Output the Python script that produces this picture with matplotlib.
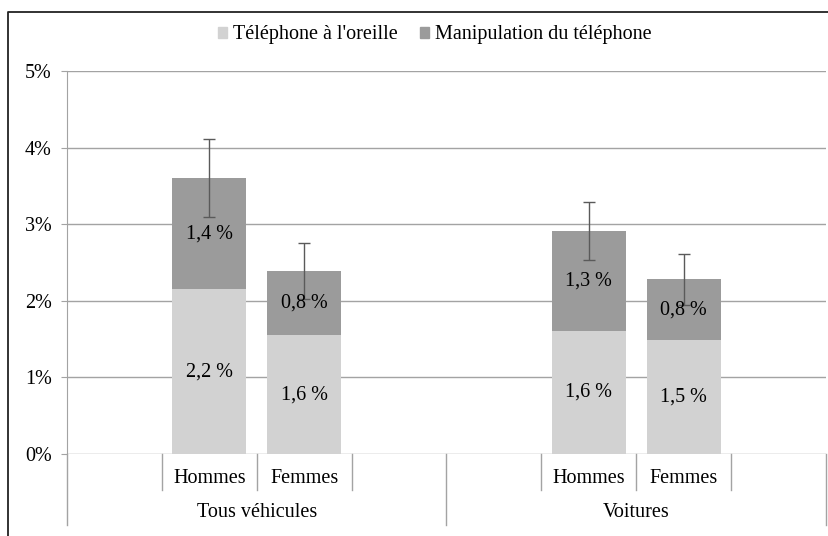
import numpy as np
import matplotlib.pyplot as plt
from matplotlib.lines import Line2D
from matplotlib.patches import Patch

# data (in %)
groups = ['Tous véhicules', 'Voitures']
sexes = ['Hommes', 'Femmes']
oreille = [2.15, 1.55, 1.61, 1.49]
manip = [1.45, 0.84, 1.30, 0.79]
erreur = [0.51, 0.36, 0.38, 0.33]
lab_oreille = ['2,2 %', '1,6 %', '1,6 %', '1,5 %']
lab_manip = ['1,4 %', '0,8 %', '1,3 %', '0,8 %']
yticks = [0, 1, 2, 3, 4, 5]

light = '#d2d2d2'
dark = '#9b9b9b'
grid = '#a3a3a3'
fs = 14.5

plt.rcParams['font.family'] = ['Liberation Serif', 'DejaVu Serif']

fig = plt.figure(figsize=(8.29, 5.36), dpi=100)
ax = fig.add_axes([67 / 829, 82 / 536, 759 / 829, 383 / 536])

# each group has 4 slots: empty, Hommes, Femmes, empty
slots = 4
x = []
for g in range(len(groups)):
  for s in range(len(sexes)):
    x.append(g * slots + 1 + s + 0.5)
x = np.array(x)
oreille = np.array(oreille)
manip = np.array(manip)
total = oreille + manip

ax.bar(x, oreille, width=0.78, color=light, zorder=2, label="Téléphone à l'oreille")
ax.bar(x, manip, width=0.78, bottom=oreille, color=dark, zorder=2, label='Manipulation du téléphone')
ax.errorbar(x, total, yerr=erreur, fmt='none', ecolor='#5a5a5a', elinewidth=1,
            capsize=4, capthick=1, zorder=3)

for i in range(len(x)):
  ax.text(x[i], oreille[i] / 2, lab_oreille[i], ha='center', va='center', fontsize=fs, zorder=4)
  ax.text(x[i], oreille[i] + manip[i] / 2, lab_manip[i], ha='center', va='center', fontsize=fs, zorder=4)

ax.set_xlim(0, slots * len(groups))
ax.set_ylim(0, 5)
ax.set_yticks(yticks)
ax.set_yticklabels([f'{t}%' for t in yticks], fontsize=fs)
ax.set_xticks([])
ax.yaxis.grid(True, color=grid, linewidth=1, zorder=0)
ax.tick_params(axis='y', length=4.5, color=grid, pad=6.5)
for side in ['top', 'right', 'bottom']:
  ax.spines[side].set_visible(False)
ax.spines['left'].set_color(grid)

# two level category axis drawn below the plot
trans = ax.get_xaxis_transform()
for g in range(len(groups)):
  start = g * slots
  for k in range(1, slots):
    ax.add_line(Line2D([start + k, start + k], [0, -0.094], color=grid, lw=1,
                       transform=trans, clip_on=False))
  for s in range(len(sexes)):
    ax.text(start + 1 + s + 0.5, -0.063, sexes[s], transform=trans, ha='center',
            va='center', fontsize=fs)
  ax.text(start + slots / 2, -0.154, groups[g], transform=trans, ha='center',
          va='center', fontsize=fs)
for g in range(len(groups) + 1):
  ax.add_line(Line2D([g * slots, g * slots], [0, -0.185], color=grid, lw=1,
                     transform=trans, clip_on=False))

handles = [Patch(color=light, label="Téléphone à l'oreille"),
           Patch(color=dark, label='Manipulation du téléphone')]
fig.legend(handles=handles, loc='center', bbox_to_anchor=(0.524, 1 - 35 / 536), ncol=2,
           frameon=False, fontsize=fs, handlelength=0.45, handleheight=0.45,
           handletextpad=0.3, columnspacing=1.1)

# chart border (left and top only, rest is cropped)
fig.add_artist(Line2D([8 / 829, 8 / 829, 1], [0, 1 - 12 / 536, 1 - 12 / 536],
                      color='#222222', lw=1.3, transform=fig.transFigure))

fig.savefig('out.png', dpi=100)
